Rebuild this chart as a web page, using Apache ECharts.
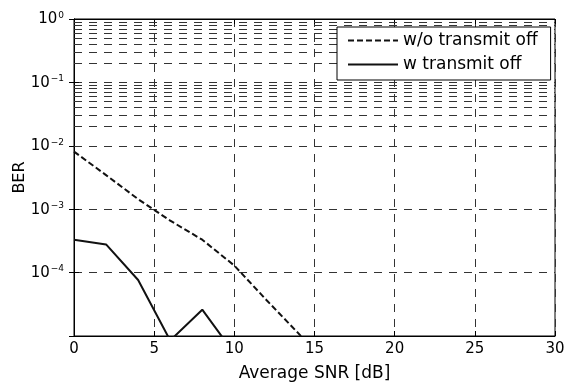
<!DOCTYPE html>
<html>
<head>
<meta charset="utf-8">
<script src="https://cdn.jsdelivr.net/npm/echarts@6/dist/echarts.min.js"></script>
<style>
html,body{margin:0;padding:0;background:#fff;}
#c{width:564px;height:385px;}
</style>
</head>
<body>
<div id="c"></div>
<script>
// ---- data ----
var snrNoOff = [0, 2, 4, 6, 8, 10, 12, 14, 16];
var berNoOff = [8.1e-3, 3.45e-3, 1.44e-3, 6.6e-4, 3.3e-4, 1.29e-4, 3.7e-5, 1.1e-5, 3e-6];
var snrOff = [0, 2, 4, 6, 8, 10];
var berOff = [3.3e-4, 2.78e-4, 7.65e-5, 8.5e-6, 2.6e-5, 5.3e-6];
var seriesNames = ['w/o transmit off', 'w transmit off'];
var xTicks = [0, 5, 10, 15, 20, 25, 30];
var yDecades = [1e-5, 1e-4, 1e-3, 1e-2, 1e-1, 1];
var xTitle = 'Average SNR [dB]';
var yTitle = 'BER';

// minor log grid lines (2..9 x each decade)
var minorLines = [];
for (var k = -5; k < 0; k++) {
  for (var m = 2; m <= 9; m++) {
    minorLines.push({yAxis: m * Math.pow(10, k)});
  }
}

function pairs(xs, ys) { return xs.map(function (x, i) { return [x, ys[i]]; }); }

var FONT = 'DejaVu Sans';
var gridDash = [8, 7];
var gridColor = '#333';

var chart = echarts.init(document.getElementById('c'), null, {renderer: 'canvas'});
chart.setOption({
  animation: false,
  backgroundColor: '#fff',
  textStyle: {fontFamily: FONT, color: '#000'},
  grid: {left: 74, right: 9, top: 19, bottom: 49, containLabel: false, outerBoundsMode: 'none',
         show: true, borderColor: '#000', borderWidth: 1, backgroundColor: 'transparent'},
  legend: {
    orient: 'vertical',
    left: 337, top: 27, z: 100,
    padding: [5, 13, 7, 10],
    itemWidth: 50, itemHeight: 14, itemGap: 7,
    itemStyle: {opacity: 0},
    borderColor: '#000', borderWidth: 1, borderRadius: 0,
    backgroundColor: '#fff',
    textStyle: {fontFamily: FONT, fontSize: 17, color: '#000'},
    data: seriesNames
  },
  xAxis: [{
    type: 'value', min: xTicks[0], max: xTicks[xTicks.length - 1], interval: 5,
    position: 'bottom',
    name: xTitle, nameLocation: 'middle', nameGap: 29, nameMoveOverlap: false,
    nameTextStyle: {fontFamily: FONT, fontSize: 17, color: '#000'},
    axisLine: {show: true, lineStyle: {color: '#000', width: 1}},
    axisTick: {show: true, inside: true, length: 5, lineStyle: {color: '#000'}},
    axisLabel: {fontFamily: FONT, fontSize: 15, color: '#000', margin: 6},
    splitLine: {show: true, lineStyle: {type: gridDash, color: gridColor, width: 1}}
  }, {
    type: 'value', min: xTicks[0], max: xTicks[xTicks.length - 1], interval: 5,
    position: 'top',
    axisLine: {show: true, lineStyle: {color: '#000'}},
    axisTick: {show: true, inside: true, length: 5, lineStyle: {color: '#000'}},
    axisLabel: {show: false}, splitLine: {show: false}
  }],
  yAxis: [{
    type: 'log', logBase: 10, min: yDecades[0], max: yDecades[yDecades.length - 1],
    position: 'left',
    name: yTitle, nameLocation: 'middle', nameGap: 46, nameRotate: 90, nameMoveOverlap: false,
    nameTextStyle: {fontFamily: FONT, fontSize: 16, color: '#000'},
    axisLine: {show: true, lineStyle: {color: '#000', width: 1}},
    axisTick: {show: true, inside: true, length: 5, lineStyle: {color: '#000'}},
    axisLabel: {
      margin: 10,
      formatter: function (v) {
        var e = Math.round(Math.log10(v));
        if (e === -5) return '';
        return '{b|10}{s|' + (e < 0 ? '\u2212' + (-e) : e) + '}';
      },
      rich: {
        b: {fontFamily: FONT, fontSize: 15, color: '#000', lineHeight: 16, verticalAlign: 'bottom'},
        s: {fontFamily: FONT, fontSize: 9, color: '#000', lineHeight: 9, verticalAlign: 'top', padding: [0, 0, 0, 1]}
      }
    },
    splitLine: {show: true, lineStyle: {type: gridDash, color: gridColor, width: 1}}
  }, {
    type: 'log', logBase: 10, min: yDecades[0], max: yDecades[yDecades.length - 1],
    position: 'right',
    axisLine: {show: true, lineStyle: {color: '#000'}},
    axisTick: {show: true, inside: true, length: 5, lineStyle: {color: '#000'}},
    axisLabel: {show: false}, splitLine: {show: false}
  }],
  series: [{
    name: '_grid', type: 'line', data: [], silent: true,
    markLine: {
      silent: true, symbol: ['none', 'none'], animation: false,
      label: {show: false},
      lineStyle: {type: gridDash, color: gridColor, width: 1},
      emphasis: {disabled: true},
      data: minorLines
    }
  }, {
    name: seriesNames[0], type: 'line', data: pairs(snrNoOff, berNoOff),
    showSymbol: false, symbol: 'none', clip: true, z: 5,
    lineStyle: {color: '#111', width: 2, type: [6, 3]},
    itemStyle: {color: '#111'}
  }, {
    name: seriesNames[1], type: 'line', data: pairs(snrOff, berOff),
    showSymbol: false, symbol: 'none', clip: true, z: 5,
    lineStyle: {color: '#111', width: 2, type: 'solid'},
    itemStyle: {color: '#111'}
  }]
});
</script>
</body>
</html>
